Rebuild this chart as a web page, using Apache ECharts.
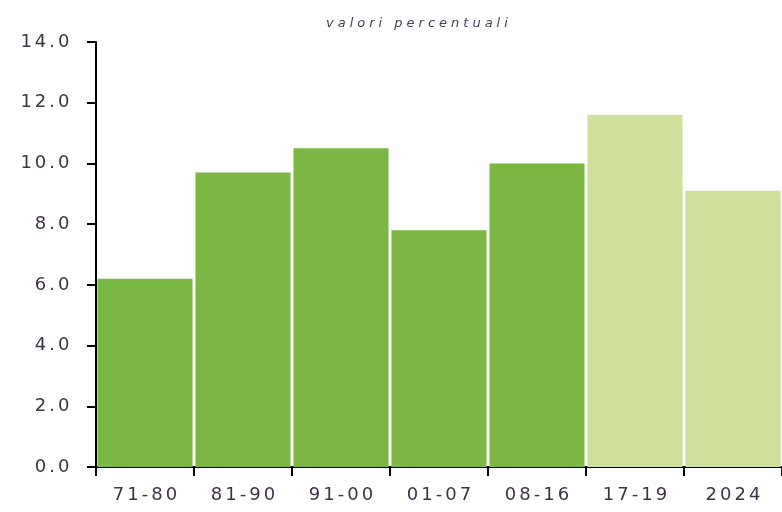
<!DOCTYPE html>
<html>
<head>
<meta charset="utf-8">
<script src="https://cdn.jsdelivr.net/npm/echarts@6/dist/echarts.min.js"></script>
<style>
  html, body { margin: 0; padding: 0; background: #fff; }
  #chart { width: 782px; height: 512px; }
</style>
</head>
<body>
<div id="chart"></div>
<script>
var categories = ['71-80', '81-90', '91-00', '01-07', '08-16', '17-19', '2024'];
var values = [6.2, 9.7, 10.5, 7.8, 10.0, 11.6, 9.1];
var lightFrom = 5; // last two periods in the lighter green

var darkGreen = '#7ab843';
var lightGreen = '#cfe09d';
var labelColor = '#3d3346';

// the original uses a very wide typeface: spread the characters out
function spaced(str) {
  return str.split('').map(function (ch) {
    return '{s|' + ch + '}';
  }).join('');
}

var myChart = echarts.init(document.getElementById('chart'));

var option = {
  animation: false,
  title: {
    text: spaced('valori percentuali'),
    left: 319,
    top: 12,
    textStyle: {
      fontWeight: 'normal',
      rich: {
        s: {
          fontFamily: 'DejaVu Sans',
          fontStyle: 'italic',
          fontWeight: 'normal',
          fontSize: 13,
          color: '#3a3f5a',
          padding: [0, 2, 0, 2]
        }
      }
    }
  },
  grid: {
    left: 96,
    right: 0,
    top: 42,
    bottom: 45
  },
  xAxis: {
    type: 'category',
    data: categories,
    axisLine: { lineStyle: { color: '#000', width: 2 } },
    axisTick: { show: true, length: 9, lineStyle: { color: '#000', width: 2 } },
    axisLabel: {
      interval: 0,
      margin: 19,
      formatter: function (v) { return spaced(v); },
      rich: {
        s: {
          fontFamily: 'DejaVu Sans',
          fontSize: 18,
          color: labelColor,
          padding: [0, 1.5, 0, 1.5]
        }
      }
    },
    splitLine: { show: false }
  },
  yAxis: {
    type: 'value',
    min: 0,
    max: 14,
    interval: 2,
    axisLine: { show: true, lineStyle: { color: '#000', width: 2 } },
    axisTick: { show: true, length: 9, lineStyle: { color: '#000', width: 2 } },
    axisLabel: {
      margin: 25,
      formatter: function (v) { return spaced(v.toFixed(1)); },
      rich: {
        s: {
          fontFamily: 'DejaVu Sans',
          fontSize: 18,
          color: labelColor,
          padding: [0, 1.5, 0, 1.5]
        }
      }
    },
    splitLine: { show: false }
  },
  series: [
    {
      type: 'bar',
      barCategoryGap: '3%',
      data: values.map(function (v, i) {
        return {
          value: v,
          itemStyle: { color: i >= lightFrom ? lightGreen : darkGreen }
        };
      })
    }
  ]
};

myChart.setOption(option);
</script>
</body>
</html>
